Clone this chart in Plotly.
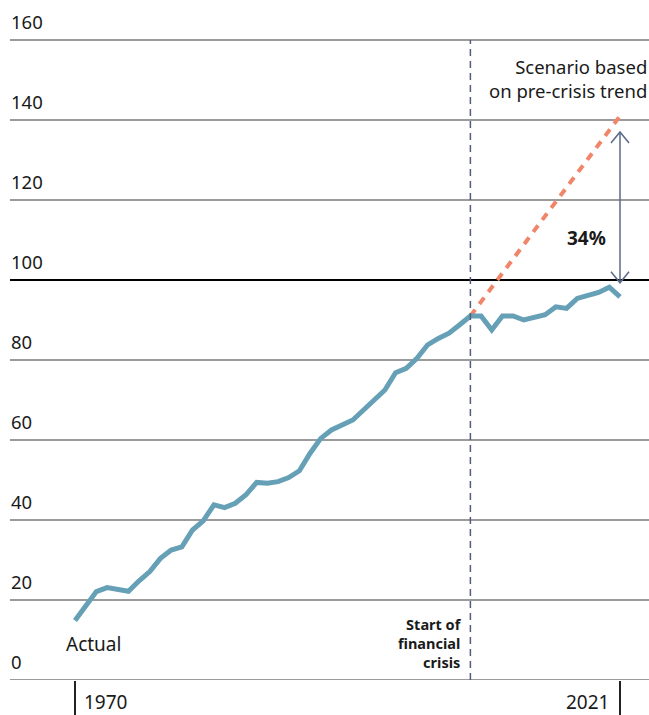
import plotly.graph_objects as go

# ---- data ----
years = list(range(1970, 2022))
actual = [14.9, 18.7, 22.1, 23.1, 22.7, 22.2, 24.8, 27.1, 30.4, 32.5,
          33.3, 37.5, 39.8, 43.8, 43.1, 44.2, 46.3, 49.4, 49.2, 49.6,
          50.6, 52.3, 56.7, 60.4, 62.5, 63.8, 65.0, 67.5, 70.0, 72.5,
          76.8, 77.9, 80.4, 83.8, 85.4, 86.7, 88.8, 91.0, 91.0, 87.5,
          91.0, 91.0, 90.0, 90.8, 91.3, 93.3, 92.9, 95.4, 96.3, 96.9,
          98.2, 95.8]
trend_years = [2007, 2021]
trend_values = [91.0, 141.0]
crisis_year = 2007
gap_year = 2021
gap_low = 99.3
gap_high = 137.0
gap_label = "34%"
y_ticks = [0, 20, 40, 60, 80, 100, 120, 140, 160]
x_tick_years = [1970, 2021]

FONT = "Noto Sans"
TXT = "#1a1a1a"
FS = 18.5
W, H = 649, 715
PLOT_H = 680

fig = go.Figure()

fig.add_trace(go.Scatter(
    x=trend_years, y=trend_values, mode="lines",
    line=dict(color="#F0856A", width=4, dash="8px,7px"),
    hoverinfo="skip", showlegend=False))

fig.add_trace(go.Scatter(
    x=years, y=actual, mode="lines",
    line=dict(color="#66A0B6", width=5),
    hoverinfo="skip", showlegend=False))

shapes = []
annotations = []
for v in y_ticks:
    shapes.append(dict(type="line", xref="paper", yref="y",
                       x0=10 / W, x1=1, y0=v, y1=v,
                       line=dict(color="#000000" if v == 100 else "#7a7a7a",
                                 width=2 if v == 100 else 1.5),
                       layer="below"))
    annotations.append(dict(xref="paper", yref="y", x=9 / W, y=v,
                            xanchor="left", yanchor="bottom", yshift=4,
                            text=str(v), showarrow=False,
                            font=dict(family=FONT, size=FS, color=TXT)))

# crisis line
shapes.append(dict(type="line", xref="x", yref="y", x0=crisis_year, x1=crisis_year,
                   y0=0, y1=160, line=dict(color="#4f5d78", width=1.5, dash="7px,5px")))

# gap arrow
arrow_col = "#5a6a86"
shapes.append(dict(type="line", xref="x", yref="y", x0=gap_year, x1=gap_year,
                   y0=gap_low, y1=gap_high, line=dict(color=arrow_col, width=1.5)))
shapes.append(dict(type="path", xref="x", yref="y", xsizemode="pixel", ysizemode="pixel",
                   xanchor=gap_year, yanchor=gap_high,
                   path="M-9,-11 L0,0 L9,-11", line=dict(color=arrow_col, width=1.5)))
shapes.append(dict(type="path", xref="x", yref="y", xsizemode="pixel", ysizemode="pixel",
                   xanchor=gap_year, yanchor=gap_low,
                   path="M-9,11 L0,0 L9,11", line=dict(color=arrow_col, width=1.5)))

annotations += [
    dict(x=2017.9, y=110.5, xref="x", yref="y", text="<b>" + gap_label + "</b>",
         showarrow=False, font=dict(family=FONT, size=19, color=TXT)),
    dict(x=1, y=150.5, xref="paper", yref="y", xanchor="right", yanchor="middle",
         text="Scenario based<br>on pre-crisis trend", align="right", showarrow=False,
         font=dict(family=FONT, size=FS, color=TXT)),
    dict(x=1971.7, y=9, xref="x", yref="y", text="Actual", showarrow=False,
         font=dict(family=FONT, size=19, color=TXT)),
    dict(x=crisis_year, y=9.25, xref="x", yref="y", xanchor="right", xshift=-6,
         text="<b>Start of<br>financial<br>crisis</b>", align="right", showarrow=False,
         font=dict(family=FONT, size=14.5, color=TXT)),
    dict(x=x_tick_years[0], y=(PLOT_H - 702) / PLOT_H, xref="x", yref="paper",
         xanchor="left", yanchor="middle", xshift=7, text=str(x_tick_years[0]),
         showarrow=False, font=dict(family=FONT, size=19, color=TXT)),
    dict(x=x_tick_years[1], y=(PLOT_H - 702) / PLOT_H, xref="x", yref="paper",
         xanchor="right", yanchor="middle", xshift=-9, text=str(x_tick_years[1]),
         showarrow=False, font=dict(family=FONT, size=19, color=TXT)),
]

px_per_year = 545 / 51
x_lo = 1970 - 75 / px_per_year
x_hi = 2021 + (W - 620) / px_per_year

fig.update_layout(
    width=W, height=H,
    margin=dict(l=0, r=0, t=0, b=H - PLOT_H, autoexpand=False),
    paper_bgcolor="white", plot_bgcolor="white",
    xaxis=dict(range=[x_lo, x_hi], showgrid=False, zeroline=False, showline=False,
               tickvals=x_tick_years, ticks="outside", ticklen=H - PLOT_H, tickwidth=1.5,
               tickcolor="#222", showticklabels=False, fixedrange=True, automargin=False),
    yaxis=dict(range=[0, PLOT_H / 4], showgrid=False, zeroline=False, showline=False,
               showticklabels=False, fixedrange=True, automargin=False),
    shapes=shapes, annotations=annotations,
    showlegend=False,
)

fig.write_html("out.html", config={"displayModeBar": False})
